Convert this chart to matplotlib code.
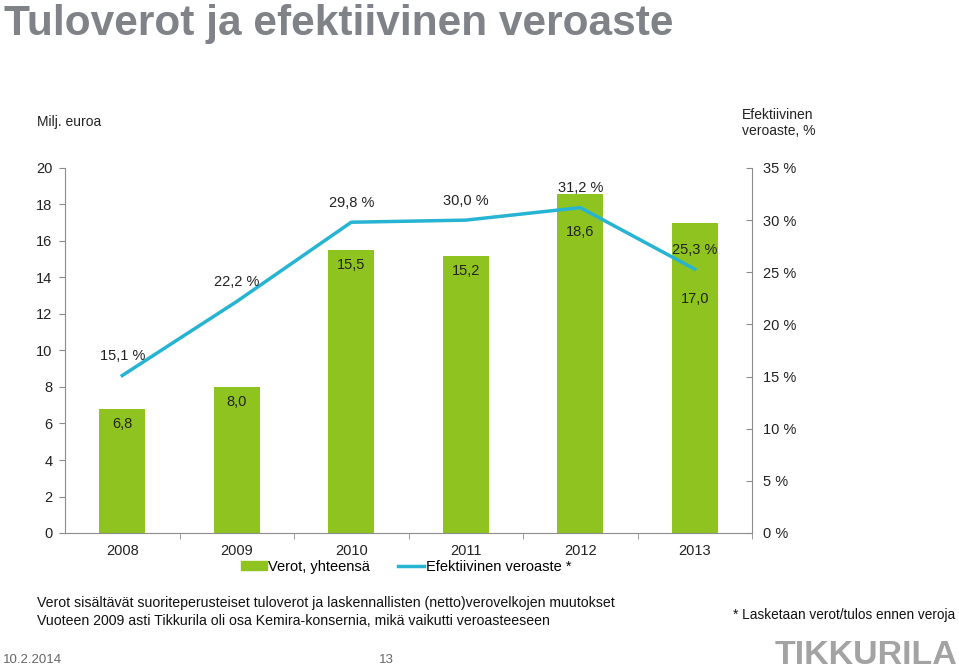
import matplotlib.pyplot as plt
from matplotlib.lines import Line2D
from matplotlib.patches import Patch

years = ["2008", "2009", "2010", "2011", "2012", "2013"]
taxes = [6.8, 8.0, 15.5, 15.2, 18.6, 17.0]          # Milj. euroa
rate = [15.1, 22.2, 29.8, 30.0, 31.2, 25.3]         # %
tax_labels = ["6,8", "8,0", "15,5", "15,2", "18,6", "17,0"]
rate_labels = ["15,1 %", "22,2 %", "29,8 %", "30,0 %", "31,2 %", "25,3 %"]

GREEN = "#8fc31f"
CYAN = "#26b4d2"
GRAY = "#8c8c8c"
W, H = 959, 670

plt.rcParams['font.family'] = ['Liberation Sans', 'DejaVu Sans']

fig = plt.figure(figsize=(W / 100, H / 100), dpi=100)

def fx(px):
    return px / W

def fy(py):
    return 1 - py / H

ax = fig.add_axes([fx(65), fy(533), fx(752) - fx(65), fy(168) - fy(533)])
x = list(range(len(years)))
ax.bar(x, taxes, width=0.4, color=GREEN, zorder=2)
ax.set_xlim(-0.5, len(years) - 0.5)
ax.set_ylim(0, 20)
ax.set_yticks(range(0, 21, 2))
ax.set_xticks(x)
ax.set_xticklabels(years, fontsize=10.5, color="#222222")
ax.set_xticks([i + 0.5 for i in x], minor=True)
ax.tick_params(axis='x', which='major', length=0, pad=8)
ax.tick_params(axis='x', which='minor', length=4, color=GRAY, direction='out')
ax.tick_params(axis='y', length=4, color=GRAY, labelsize=10.5, labelcolor="#222222", pad=5)
for s in ["top", "right"]:
    ax.spines[s].set_visible(False)
ax.spines["left"].set_color(GRAY)
ax.spines["bottom"].set_color(GRAY)

# bar value labels (offset below the top, in points)
bar_off = [-11, -11, -11, -11, -28, -55]
for xi, v, lab, off in zip(x, taxes, tax_labels, bar_off):
    ax.annotate(lab, (xi, v), xytext=(0, off), textcoords="offset points",
                ha="center", va="center", fontsize=10.5, color="#222222", zorder=5)

ax2 = ax.twinx()
ax2.plot(x, rate, color=CYAN, lw=2.5, zorder=3)
ax2.set_ylim(0, 35)
ax2.set_yticks(range(0, 36, 5))
ax2.set_yticklabels([f"{t} %" for t in range(0, 36, 5)])
ax2.tick_params(axis='y', length=4, color=GRAY, direction='in', labelsize=10.5,
                labelcolor="#222222", pad=8)
for s in ["top", "left", "bottom"]:
    ax2.spines[s].set_visible(False)
ax2.spines["right"].set_color(GRAY)
for xi, v, lab in zip(x, rate, rate_labels):
    ax2.annotate(lab, (xi, v), xytext=(0, 14), textcoords="offset points",
                 ha="center", va="center", fontsize=10.5, color="#222222", zorder=5)

# legend
handles = [Patch(color=GREEN), Line2D([], [], color=CYAN, lw=2.5)]
fig.legend(handles, ["Verot, yhteensä", "Efektiivinen veroaste *"],
           loc="center", bbox_to_anchor=(fx(406), fy(567)), ncol=2, frameon=False,
           fontsize=10.5, handlelength=1.8, handleheight=0.6, columnspacing=1.9,
           handletextpad=0.1)

# title and axis captions
fig.text(fx(4), fy(35), "Tuloverot ja efektiivinen veroaste", fontsize=30.5,
         fontweight="bold", color="#7f8388", va="baseline", ha="left")
fig.text(fx(37), fy(122), "Milj. euroa", fontsize=10, color="#222222", va="center")
fig.text(fx(742), fy(123), "Efektiivinen\nveroaste, %", fontsize=10, color="#222222",
         va="center", linespacing=1.1)

# footer notes
fig.text(fx(37), fy(603), "Verot sisältävät suoriteperusteiset tuloverot ja laskennallisten (netto)verovelkojen muutokset",
         fontsize=10.2, color="#111111", va="center")
fig.text(fx(37), fy(621), "Vuoteen 2009 asti Tikkurila oli osa Kemira-konsernia, mikä vaikutti veroasteeseen",
         fontsize=10.2, color="#111111", va="center")
fig.text(fx(955), fy(615), "* Lasketaan verot/tulos ennen veroja", fontsize=9.8,
         color="#111111", va="center", ha="right")
fig.text(fx(3), fy(660), "10.2.2014", fontsize=9.5, color="#666666", va="center")
fig.text(fx(386), fy(660), "13", fontsize=9.5, color="#666666", va="center", ha="center")
fig.text(fx(957), fy(664), "TIKKURILA", fontsize=24.5, fontweight="bold",
         family=["Liberation Sans Narrow", "Liberation Sans", "DejaVu Sans"],
         color="#a3a3a3", va="baseline", ha="right")

fig.savefig("out.png", dpi=100)
